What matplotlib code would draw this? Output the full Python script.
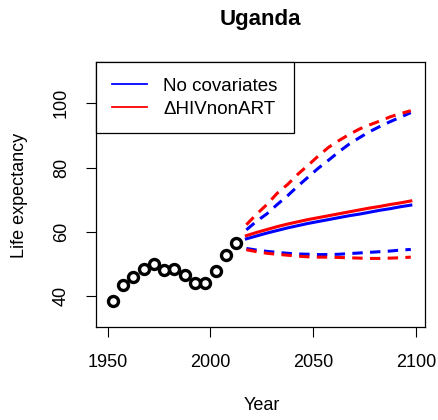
import matplotlib
matplotlib.use("Agg")
import matplotlib.pyplot as plt
from matplotlib.lines import Line2D

plt.rcParams['font.family'] = ['Liberation Sans', 'DejaVu Sans']

obs_years = [1952.5 + 5 * i for i in range(13)]
obs_e0 = [38.5, 43.3, 45.8, 48.4, 49.9, 48.1, 48.4, 46.6, 43.9, 43.9, 47.7, 52.7, 56.4]

proj_years = [2017.5 + 5 * i for i in range(17)]
blue_median = [57.8, 58.7, 59.6, 60.4, 61.2, 61.9, 62.6, 63.2, 63.8, 64.4, 65.0, 65.5, 66.1, 66.7, 67.2, 67.8, 68.3]
blue_upper = [60.6, 63.3, 65.6, 68.5, 71.2, 74.2, 77.0, 79.8, 82.3, 84.9, 87.3, 89.3, 91.2, 92.8, 94.3, 95.7, 97.1]
blue_lower = [54.8, 54.3, 53.9, 53.6, 53.3, 53.1, 53.0, 52.9, 52.9, 53.0, 53.2, 53.4, 53.6, 53.8, 54.0, 54.3, 54.5]
red_median = [58.8, 59.8, 60.7, 61.6, 62.4, 63.1, 63.8, 64.4, 65.0, 65.6, 66.2, 66.8, 67.4, 67.9, 68.5, 69.0, 69.6]
red_upper = [62.2, 65.5, 68.5, 72.0, 74.7, 77.9, 80.7, 83.6, 86.3, 88.4, 90.3, 92.0, 93.3, 94.5, 95.8, 96.8, 97.7]
red_lower = [54.4, 53.8, 53.3, 53.0, 52.7, 52.4, 52.2, 52.1, 52.1, 52.0, 51.9, 51.8, 51.7, 51.7, 51.8, 51.9, 52.1]

legend_labels = ["No covariates", "\u0394HIVnonART"]
xticks = [1950, 2000, 2050, 2100]
yticks = [40, 60, 80, 100]

W, H = 439, 420
fig = plt.figure(figsize=(W / 100, H / 100), dpi=100)
ax = fig.add_axes([95.7 / W, 1 - 326.7 / H, (425 - 95.7) / W, (326.7 - 61.7) / H])

lw = 2.2
dash = (3.4, 2.4)
ax.plot(proj_years, blue_upper, color='#0000FF', lw=lw, dashes=dash)
ax.plot(proj_years, blue_lower, color='#0000FF', lw=lw, dashes=dash)
ax.plot(proj_years, red_upper, color='#FF0000', lw=lw, dashes=dash)
ax.plot(proj_years, red_lower, color='#FF0000', lw=lw, dashes=dash)
ax.plot(proj_years, blue_median, color='#0000FF', lw=lw)
ax.plot(proj_years, red_median, color='#FF0000', lw=lw)
ax.plot(obs_years, obs_e0, linestyle='none', marker='o', markersize=7.2,
        markerfacecolor='none', markeredgecolor='black', markeredgewidth=2.4)

ax.set_xlim(1944.2, 2104.4)
ax.set_ylim(30.44, 112.96)
ax.set_xticks(xticks)
ax.set_yticks(yticks)
ax.tick_params(direction='out', length=7.5, width=0.8, labelsize=13)
ax.tick_params(axis='x', pad=12)
ax.tick_params(axis='y', pad=11)
for lab in ax.get_yticklabels():
    lab.set_rotation(90)
    lab.set_va('center')
for s in ax.spines.values():
    s.set_linewidth(0.9)
    s.set_color('black')

handles = [Line2D([], [], color='#0000FF', lw=1.3), Line2D([], [], color='#FF0000', lw=1.3)]
leg = ax.legend(handles, legend_labels, loc='upper left', bbox_to_anchor=(0, 1),
                borderaxespad=0, fancybox=False, edgecolor='black', framealpha=1,
                fontsize=13.5, handlelength=1.9, handletextpad=0.85, labelspacing=0.3,
                borderpad=0.85)
leg.get_frame().set_linewidth(0.9)

fig.text(260 / W, 1 - 19 / H, "Uganda", ha='center', va='center', fontsize=16, fontweight='bold')
fig.text(262 / W, 1 - 406 / H, "Year", ha='center', va='center', fontsize=13)
fig.text(20 / W, 1 - 195 / H, "Life expectancy", ha='center', va='center', fontsize=13, rotation=90)

fig.savefig("out.png", dpi=100)
